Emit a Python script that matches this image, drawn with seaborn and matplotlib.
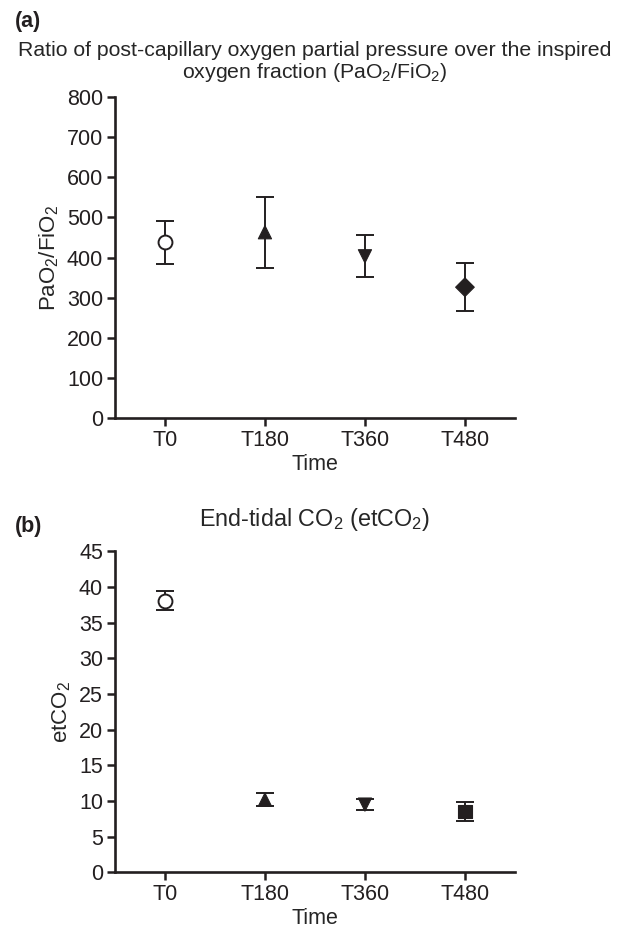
import matplotlib
matplotlib.use("Agg")
import matplotlib.pyplot as plt
import numpy as np
import pandas as pd
import seaborn as sns

# values (mean +/- error)
times = ["T0", "T180", "T360", "T480"]
pao2_mean = [438, 463, 403, 326]
pao2_err = [53, 88, 52, 60]
etco2_mean = [38.1, 10.2, 9.5, 8.5]
etco2_err = [1.3, 0.9, 0.75, 1.3]
markers_a = ["o", "^", "v", "D"]
markers_b = ["o", "^", "v", "s"]

INK = "#231f20"

sns.set_theme(style="ticks")
plt.rcParams["font.family"] = ["Liberation Sans", "DejaVu Sans"]
plt.rcParams["mathtext.default"] = "regular"


def panel(ax, means, errs, markers, ylim, yticks, ylabel, title, title_size, title_pad):
    df = pd.DataFrame({"time": times, "mean": means, "err": errs, "marker": markers})
    df["x"] = np.arange(len(df))
    ax.errorbar(df["x"], df["mean"], yerr=df["err"], fmt="none", ecolor=INK,
                elinewidth=1.4, capsize=6.5, capthick=1.4, zorder=2)
    filled = df[df["marker"] != "o"]
    sns.scatterplot(data=filled, x="x", y="mean", style="time",
                    markers=dict(zip(filled["time"], filled["marker"])),
                    color=INK, edgecolor=INK, s=90, linewidth=0.8,
                    legend=False, ax=ax, zorder=3)
    opened = df[df["marker"] == "o"]
    sns.scatterplot(data=opened, x="x", y="mean", marker="o", s=100,
                    facecolor="white", edgecolor=INK, linewidth=1.4,
                    legend=False, ax=ax, zorder=3)
    ax.set_xlim(-0.5, len(times) - 0.5)
    ax.set_xticks(range(len(times)))
    ax.set_xticklabels(times)
    ax.set_ylim(*ylim)
    ax.set_yticks(yticks)
    ax.set_xlabel("Time", fontsize=15.5, labelpad=2)
    ax.set_ylabel(ylabel, fontsize=16, labelpad=4)
    ax.set_title(title, fontsize=title_size, pad=title_pad, linespacing=1.05)
    ax.tick_params(labelsize=15.5, width=1.8, length=5.5, color=INK, labelcolor=INK, pad=3)
    for side in ("left", "bottom"):
        ax.spines[side].set_linewidth(1.9)
        ax.spines[side].set_color(INK)
    sns.despine(ax=ax)


fig = plt.figure(figsize=(6.28, 9.33), dpi=100)
ax_a = fig.add_axes([0.183, 0.552, 0.637, 0.344])
ax_b = fig.add_axes([0.183, 0.065, 0.637, 0.344])

panel(ax_a, pao2_mean, pao2_err, markers_a, (0, 800), range(0, 801, 100),
      "PaO$_2$/FiO$_2$",
      "Ratio of post-capillary oxygen partial pressure over the inspired\n"
      "oxygen fraction (PaO$_2$/FiO$_2$)", 15.3, 14)
panel(ax_b, etco2_mean, etco2_err, markers_b, (0, 45), range(0, 46, 5),
      "etCO$_2$", "End-tidal CO$_2$ (etCO$_2$)", 16.8, 18)

fig.text(0.024, 0.988, "(a)", fontsize=15.5, fontweight="bold", va="top", color=INK)
fig.text(0.024, 0.447, "(b)", fontsize=15.5, fontweight="bold", va="top", color=INK)

fig.savefig("out.png", dpi=100)
